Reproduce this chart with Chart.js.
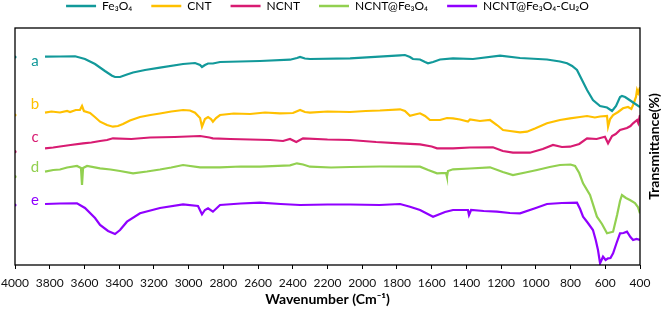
<!DOCTYPE html>
<html>
<head>
<meta charset="utf-8">
<script src="https://cdn.jsdelivr.net/npm/chart.js@4.4.1/dist/chart.umd.min.js"></script>
<style>
  html,body{margin:0;padding:0;background:#fff;}
  #wrap{width:661px;height:310px;}
</style>
</head>
<body>
<div id="wrap"><canvas id="ch-ftir" width="661" height="310"></canvas></div>
<script>
/* ---------- Datos (número de onda cm-1, transmitancia desplazada) ---------- */
const seriesNames=['Fe₃O₄','CNT','NCNT','NCNT@Fe₃O₄','NCNT@Fe₃O₄-Cu₂O'];
const seriesColors=['#12999A','#FFC000','#D81B72','#92D050','#9000FF'];
const curveTags=['a','b','c','d','e'];
const tagLevels=[204,161,128,98,65];
const xTicks=[4000,3800,3600,3400,3200,3000,2800,2600,2400,2200,2000,1800,1600,1400,1200,1000,800,600,400];

const fe3o4=[[4000,208],[3900,null],[3827,208.3],[3740,208.5],[3654,208.7],[3597,206],[3539,201],[3482,194],[3441,189.3],[3424,188],
  [3395,188],[3355,190.5],[3320,192.5],[3251,195],[3165,197.3],[3032,201],[2963,202],[2934,200],[2923,198],[2906,200],
  [2888,201.5],[2860,201.5],[2819,203],[2589,204],[2416,205.3],[2376,207],[2358,208],[2330,206.5],[2301,206],[2070,206.7],
  [1782,209.7],[1754,210],[1725,208],[1708,206],[1667,205.5],[1638,203],[1621,201.7],[1592,203],[1552,205.5],[1477,206.7],
  [1362,206],[1206,209.3],[1091,207],[936,205.5],[861,203.5],[820,201.7],[791,199],[763,195],[734,185],[705,175],
  [671,165],[630,159],[590,157.5],[561,154],[538,159],[515,168],[504,169],[486,168],[469,166],[435,162],[400,158]];

const cnt=[[4000,150],[3900,null],[3827,152.3],[3790,153.5],[3741,152.5],[3700,154],[3683,153],[3650,155],[3626,155],[3614,159],
  [3603,154],[3568,152],[3540,148],[3510,143.3],[3470,140],[3436,138.3],[3407,139],[3378,141],[3338,144.5],[3280,148],
  [3220,150],[3165,151.5],[3100,153.5],[3032,155],[2992,154.5],[2963,152.3],[2934,147],[2923,138.3],[2906,146],[2888,148],
  [2871,146],[2860,143.3],[2842,147],[2819,150],[2740,151.5],[2646,151],[2560,152.5],[2474,151.7],[2399,152],[2358,155],
  [2330,153],[2301,152.3],[2200,153.5],[2070,153],[1980,154],[1898,154.5],[1782,155.7],[1754,154],[1725,149.3],[1696,150.5],
  [1667,151.7],[1638,149],[1610,145],[1552,145],[1512,147],[1477,146.7],[1437,145.5],[1391,143.5],[1379,145.5],[1322,144],
  [1264,145],[1224,140],[1189,135],[1149,134],[1091,132.7],[1051,133.3],[1005,136.5],[936,141.7],[861,145],[803,146.7],
  [746,148],[705,149],[660,147.5],[630,148.5],[590,149],[584,138.3],[572,146],[555,150],[526,153],[498,156.7],
  [469,158],[450,156],[440,160],[423,168],[417,175],[410,172],[400,177.7]];

const ncnt=[[4000,113.3],[3900,null],[3827,116.7],[3780,117.5],[3741,118.5],[3680,120],[3608,121.7],[3560,122.5],[3510,124],[3470,125],
  [3436,126.7],[3330,126],[3222,127.5],[3080,128],[2934,129],[2880,127.5],[2860,126.7],[2760,126],[2646,125.5],[2530,125],
  [2456,124],[2416,126],[2380,123],[2341,126.7],[2200,125.5],[2070,125],[1920,123],[1782,121.7],[1667,120.7],[1600,118.5],
  [1569,116.7],[1477,116.7],[1380,117.5],[1247,117.7],[1190,114],[1132,112.3],[1034,112.3],[960,116],[901,120],[850,118],
  [803,118.3],[750,121],[705,126.7],[650,126],[602,128.3],[584,121.7],[561,129],[540,131],[515,135],[475,137],
  [455,139],[440,141.7],[417,145],[410,142],[400,150]];

const ncntFe=[[4000,88.3],[3900,null],[3827,93.3],[3780,95],[3741,95.5],[3700,97.5],[3643,99],[3620,97],[3614,80],[3608,97],
  [3585,99],[3510,96.7],[3450,95.5],[3395,94],[3320,91.7],[3240,93.5],[3165,95.5],[3100,97.5],[3032,100],[2934,97.7],
  [2819,97.7],[2700,98.5],[2589,98.3],[2416,99.7],[2376,101.7],[2341,100.5],[2301,98.3],[2180,97.5],[2070,98],[1900,98.5],
  [1667,98.3],[1620,95],[1569,91.7],[1517,92],[1512,88.3],[1506,94],[1477,95.7],[1380,96.5],[1264,97.7],[1190,93],
  [1132,90],[1060,92.5],[993,95],[920,98],[861,100],[800,100.5],[774,99],[750,92],[728,81.7],[688,70],
  [648,48.3],[619,41],[590,31.7],[555,33.3],[532,50],[515,64],[504,70],[481,67],[458,65],[429,62],
  [412,58],[400,51.7]];

const ncntFeCu=[[4000,60],[3900,null],[3827,61],[3741,61.5],[3643,61.7],[3597,57],[3539,47],[3510,40],[3464,34],[3424,31],
  [3395,35],[3355,43.3],[3280,51.7],[3165,57],[3032,60.7],[2946,59],[2923,50.7],[2906,55],[2888,56.7],[2860,53.3],
  [2819,60],[2700,61.5],[2589,62.3],[2470,61],[2358,60],[2200,60.5],[2070,60.5],[1900,60],[1782,61],[1725,58.3],
  [1667,55],[1592,48.3],[1523,53],[1477,55],[1391,55],[1385,50],[1373,55],[1300,54],[1224,53.3],[1150,52],
  [1091,51.7],[1000,57],[936,61],[850,62],[763,62.3],[745,56],[728,48.3],[700,42],[671,35],[655,25],
  [642,15],[630,1.7],[613,8.3],[598,5],[584,6.7],[570,7],[555,11.7],[535,22],[515,31.7],[495,32],
  [475,33.3],[455,28],[440,25],[420,26],[400,25]];

const seriesData=[fe3o4,cnt,ncnt,ncntFe,ncntFeCu];

/* ---------- Plugins ---------- */
const frame={
  id:'frame',
  afterDatasetsDraw(c){
    const a=c.chartArea,ctx=c.ctx;
    ctx.save();
    ctx.strokeStyle='#000';ctx.lineWidth=1.3;
    ctx.strokeRect(a.left,a.top,a.right-a.left,a.bottom-a.top);
    // etiquetas a-e
    const y=c.scales.y;
    ctx.font='15px Lato';ctx.textAlign='center';ctx.textBaseline='middle';
    curveTags.forEach((t,i)=>{ctx.fillStyle=seriesColors[i];ctx.fillText(t,a.left+20,y.getPixelForValue(tagLevels[i]));});
    // título eje derecho
    ctx.translate(a.right+14,(a.top+a.bottom)/2);
    ctx.rotate(-Math.PI/2);
    ctx.fillStyle='#000';ctx.font='bold 14px Lato';
    ctx.fillText('Transmittance(%)',0,0);
    ctx.restore();
  }
};

Chart.defaults.font.family='Lato';
Chart.defaults.color='#000';

new Chart(document.getElementById('ch-ftir'),{
  type:'line',
  data:{datasets:seriesData.map((d,i)=>({
    label:seriesNames[i],
    data:d.map(p=>({x:p[0],y:p[1]})),
    borderColor:seriesColors[i],backgroundColor:seriesColors[i],
    borderWidth:2.2,tension:0,spanGaps:false,
    pointRadius:ctx=>ctx.dataIndex===0?1.6:0,pointBorderWidth:0
  }))},
  options:{
    responsive:false,animation:false,
    layout:{padding:{top:-19,right:21,bottom:0,left:15}},
    plugins:{
      legend:{position:'top',align:'center',labels:{boxWidth:30,boxHeight:2.5,padding:19,font:{size:12},color:'#000',
        generateLabels:c=>Chart.defaults.plugins.legend.labels.generateLabels(c).map(it=>({...it,lineWidth:0}))}},
      tooltip:{enabled:false}
    },
    scales:{
      x:{type:'linear',reverse:true,min:400,max:4000,
        afterBuildTicks:s=>{s.ticks=xTicks.map(v=>({value:v}));},
        afterFit:s=>{s.height=45;s.paddingLeft=0;s.paddingRight=0;},
        ticks:{autoSkip:false,maxRotation:0,padding:7,font:{size:12},color:'#111',callback:v=>String(v)},
        grid:{display:true,drawOnChartArea:false,drawTicks:true,tickLength:4,color:'#000'},
        border:{display:false},
        title:{display:true,text:'Wavenumber (Cm⁻¹)',font:{size:14,weight:'bold'},color:'#000',padding:{top:1,bottom:2.5}}
      },
      // espaciador entre leyenda y área de gráfico
      x2:{type:'linear',position:'top',display:true,min:400,max:4000,reverse:true,
        afterFit:s=>{s.height=6;s.paddingLeft=0;s.paddingRight=0;},
        ticks:{display:false},grid:{display:false},border:{display:false}},
      y:{display:false,min:0,max:237}
    }
  },
  plugins:[frame]
});
</script>
</body>
</html>
